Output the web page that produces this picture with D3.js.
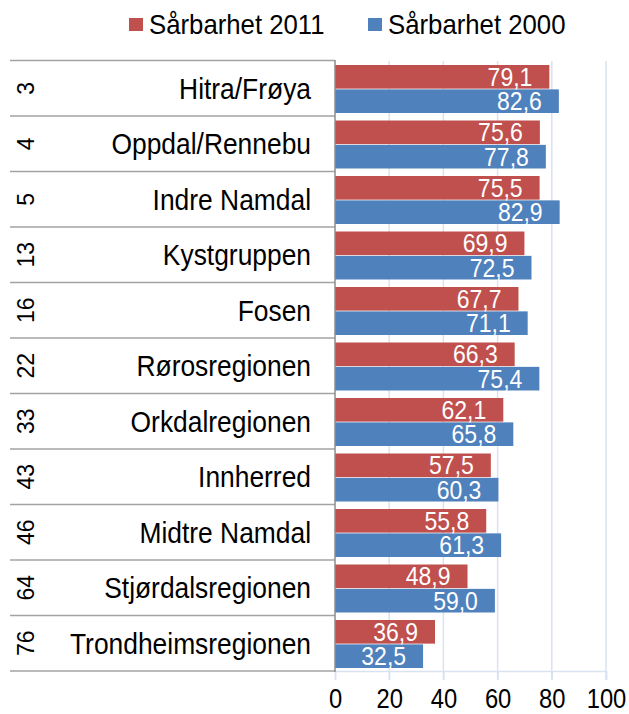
<!DOCTYPE html>
<html>
<head>
<meta charset="utf-8">
<script src="https://cdn.jsdelivr.net/npm/d3@7"></script>
<style>
  body { margin: 0; background: #fff; }
  text { font-family: "Liberation Sans", Arial, sans-serif; }
</style>
</head>
<body>
<div id="chart"></div>
<script>
// data
var ranks = ["3", "4", "5", "13", "16", "22", "33", "43", "46", "64", "76"];
var regions = ["Hitra/Frøya", "Oppdal/Rennebu", "Indre Namdal", "Kystgruppen", "Fosen",
    "Rørosregionen", "Orkdalregionen", "Innherred", "Midtre Namdal", "Stjørdalsregionen",
    "Trondheimsregionen"];
var values2011 = [79.1, 75.6, 75.5, 69.9, 67.7, 66.3, 62.1, 57.5, 55.8, 48.9, 36.9];
var values2000 = [82.6, 77.8, 82.9, 72.5, 71.1, 75.4, 65.8, 60.3, 61.3, 59.0, 32.5];
var seriesNames = ["Sårbarhet 2011", "Sårbarhet 2000"];
var xTicks = [0, 20, 40, 60, 80, 100];

var svgWidth = 629;
var svgHeight = 714;
var colors = ["#C0504D", "#4F81BD"];

var svg = d3.select("#chart")
    .append("svg")
    .attr("width", svgWidth)
    .attr("height", svgHeight);

var rows = regions.map(function(r, i) {
    return { rank: ranks[i], name: r, vals: [values2011[i], values2000[i]] };
});

var xScale = d3.scaleLinear().domain([0, 100]).range([335, 606]);
var yScale = d3.scaleBand().domain(regions).range([60.5, 671]).padding(0);
var inner = d3.scaleBand().domain([0, 1]).range([4.5, 52.5]).paddingInner(0.03);

var fmt = function(v) { return d3.format(".1f")(v).replace(".", ","); };

// gridlines
svg.append("g").selectAll("line")
    .data(xTicks.slice(1))
    .enter()
    .append("line")
    .attr("x1", d => xScale(d))
    .attr("x2", d => xScale(d))
    .attr("y1", 61)
    .attr("y2", 680)
    .attr("stroke", "#d9e2f1")
    .attr("stroke-width", 1.5);

// x axis
var bottomAxis = d3.axisBottom(xScale).tickValues(xTicks).tickSize(9).tickFormat(d3.format("d"));
var axisG = svg.append("g")
    .attr("transform", "translate(0,671)")
    .call(bottomAxis);
axisG.select(".domain").attr("stroke", "#d9e2f1").attr("stroke-width", 1.5);
axisG.selectAll(".tick line").attr("stroke", "#d9e2f1").attr("stroke-width", 1.5);
axisG.selectAll(".tick text").remove();
axisG.selectAll(".tick").append("text")
    .attr("transform", "translate(0,37) scale(0.88,1)")
    .attr("text-anchor", "middle")
    .attr("fill", "#000")
    .style("font-size", "27px")
    .text(d => d);

// bars
var groups = svg.append("g").selectAll("g")
    .data(rows)
    .enter()
    .append("g")
    .attr("transform", d => `translate(0,${yScale(d.name)})`);

groups.selectAll("rect")
    .data(d => d.vals)
    .enter()
    .append("rect")
    .attr("x", xScale(0))
    .attr("y", (d, i) => inner(i))
    .attr("width", d => xScale(d) - xScale(0))
    .attr("height", inner.bandwidth())
    .attr("fill", (d, i) => colors[i]);

groups.selectAll("text.val")
    .data(d => d.vals)
    .enter()
    .append("text")
    .attr("class", "val")
    .attr("transform", (d, i) => `translate(${xScale(d) - 17},${inner(i) + inner.bandwidth() / 2 + 9}) scale(0.92,1)`)
    .attr("text-anchor", "end")
    .attr("fill", "#fff")
    .style("font-size", "25px")
    .text(d => fmt(d));

// label table
var rowLines = regions.map(d => yScale(d)).concat([671]);
svg.append("g").selectAll("line")
    .data(rowLines)
    .enter()
    .append("line")
    .attr("x1", 10)
    .attr("x2", 335)
    .attr("y1", d => d)
    .attr("y2", d => d)
    .attr("stroke", "#a3a3a3")
    .attr("stroke-width", 1.5);

svg.append("line")
    .attr("x1", 335).attr("x2", 335)
    .attr("y1", 60).attr("y2", 672)
    .attr("stroke", "#8c8c8c")
    .attr("stroke-width", 1.5);

svg.append("g").selectAll("text")
    .data(rows)
    .enter()
    .append("text")
    .attr("transform", d => `translate(311,${yScale(d.name) + yScale.bandwidth() / 2 + 10.5}) scale(0.91,1)`)
    .attr("text-anchor", "end")
    .attr("fill", "#000")
    .style("font-size", "29px")
    .text(d => d.name);

svg.append("g").selectAll("text")
    .data(rows)
    .enter()
    .append("text")
    .attr("transform", d => `translate(34,${yScale(d.name) + yScale.bandwidth() / 2}) rotate(-90)`)
    .attr("text-anchor", "middle")
    .attr("fill", "#000")
    .style("font-size", "23px")
    .text(d => d.rank);

// legend
var legendX = [129, 368];
var legend = svg.append("g").selectAll("g")
    .data(seriesNames)
    .enter()
    .append("g")
    .attr("transform", (d, i) => `translate(${legendX[i]},0)`);

legend.append("rect")
    .attr("x", 0)
    .attr("y", 18)
    .attr("width", 14)
    .attr("height", 13)
    .attr("fill", (d, i) => colors[i]);

legend.append("text")
    .attr("transform", "translate(20,33.5) scale(0.92,1)")
    .attr("fill", "#000")
    .style("font-size", "28px")
    .text(d => d);
</script>
</body>
</html>
